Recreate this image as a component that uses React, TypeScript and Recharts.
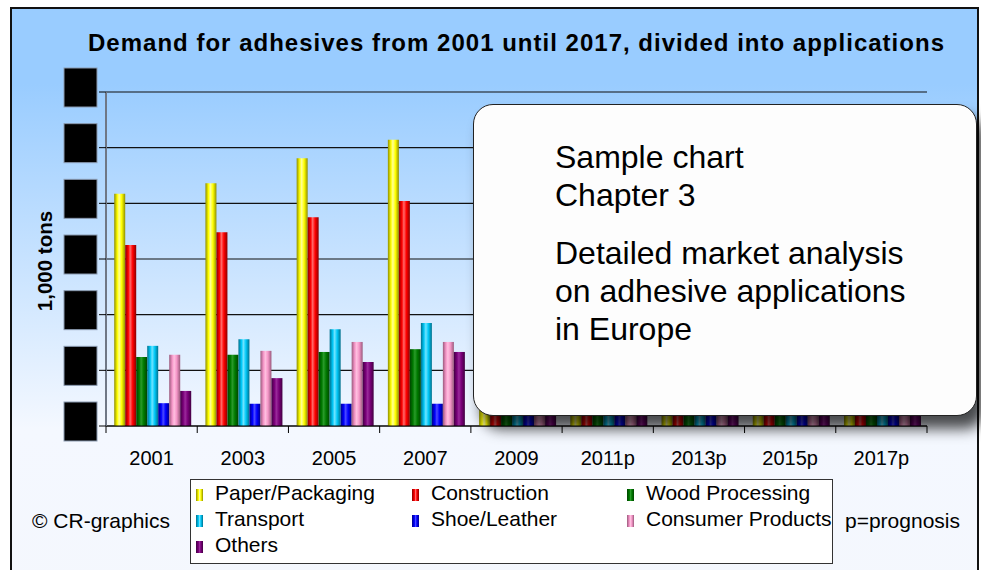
import React from "react";
import { BarChart, Bar, XAxis, YAxis, CartesianGrid } from "recharts";

const years = ["2001", "2003", "2005", "2007", "2009", "2011p", "2013p", "2015p", "2017p"];
const paperPackaging = [417, 436, 481, 514, 470, 500, 525, 545, 560];
const construction = [325, 348, 375, 404, 360, 372, 385, 398, 410];
const woodProcessing = [124, 128, 133, 138, 118, 124, 128, 132, 136];
const transport = [144, 156, 174, 185, 150, 165, 178, 188, 198];
const shoeLeather = [41, 40, 40, 40, 36, 36, 35, 35, 34];
const consumerProducts = [128, 135, 151, 151, 140, 148, 155, 160, 166];
const others = [63, 86, 115, 133, 120, 130, 140, 148, 156];
const yTicks = [0, 100, 200, 300, 400, 500, 600];

const series = [
  { key: "paper", name: "Paper/Packaging", values: paperPackaging, base: "#ffff00", light: "#ffff9a", dark: "#8f8f00" },
  { key: "construction", name: "Construction", values: construction, base: "#ff0000", light: "#ff6a6a", dark: "#8a0000" },
  { key: "wood", name: "Wood Processing", values: woodProcessing, base: "#007a00", light: "#2a9a2a", dark: "#004400" },
  { key: "transport", name: "Transport", values: transport, base: "#00c8f8", light: "#70e4ff", dark: "#00708c" },
  { key: "shoe", name: "Shoe/Leather", values: shoeLeather, base: "#0000ff", light: "#4a4aff", dark: "#00008a" },
  { key: "consumer", name: "Consumer Products", values: consumerProducts, base: "#f596c8", light: "#ffc0e0", dark: "#9a5a7c" },
  { key: "others", name: "Others", values: others, base: "#7a007a", light: "#9a2a9a", dark: "#420042" },
];

const data = years.map((year, i) => {
  const row: Record<string, string | number> = { year };
  series.forEach((s) => {
    row[s.key] = s.values[i];
  });
  return row;
});

const FONT = "'Liberation Sans', Arial, sans-serif";
const PLOT_W = 821;

function YTick(props: any) {
  const { x, y } = props;
  return <rect x={x - 35} y={y - 24} width={33} height={39} fill="#000" stroke="#8a9ab0" strokeWidth={1} />;
}

function XTick(props: any) {
  const { x, y, payload, index } = props;
  const bw = PLOT_W / years.length;
  return (
    <g>
      <line x1={x - bw / 2} x2={x - bw / 2} y1={y} y2={y + 7} stroke="#000" />
      {index === years.length - 1 && (
        <line x1={x + bw / 2} x2={x + bw / 2} y1={y} y2={y + 7} stroke="#000" />
      )}
      <text x={x} y={y + 39} textAnchor="middle" fontSize={20} fontFamily={FONT} fill="#000">
        {payload.value}
      </text>
    </g>
  );
}

export default function App() {
  return (
    <div
      style={{
        position: "absolute",
        left: 0,
        top: 0,
        width: 981,
        height: 570,
        overflow: "hidden",
        background: "#fff",
        fontFamily: FONT,
      }}
    >
      <div
        style={{
          position: "absolute",
          left: 10,
          top: 7,
          width: 965,
          height: 600,
          border: "2px solid #111",
          background:
            "linear-gradient(to bottom, #99ccff 0px, #99ccff 75px, #f4f8ff 420px, #f4f7fd 600px)",
        }}
      />
      <div style={{ position: "absolute", left: 0, top: 0 }}>
        <BarChart
          width={981}
          height={570}
          data={data}
          margin={{ top: 92, right: 54, bottom: 94, left: 62 }}
          barCategoryGap="9%"
          barGap={0}
        >
          <defs>
            {series.map((s) => (
              <linearGradient key={s.key} id={`grad-${s.key}`} x1="0" y1="0" x2="1" y2="0">
                <stop offset="0%" stopColor={s.dark} />
                <stop offset="28%" stopColor={s.base} />
                <stop offset="45%" stopColor={s.light} />
                <stop offset="68%" stopColor={s.base} />
                <stop offset="100%" stopColor={s.dark} />
              </linearGradient>
            ))}
          </defs>
          <CartesianGrid vertical={false} stroke="#111" strokeWidth={1.2} />
          <XAxis
            dataKey="year"
            height={50}
            tickSize={0}
            tickMargin={0}
            tickLine={false}
            axisLine={{ stroke: "#000", strokeWidth: 1.2 }}
            tick={<XTick />}
            interval={0}
          />
          <YAxis
            width={44}
            domain={[0, 600]}
            ticks={yTicks}
            tickSize={7}
            tickMargin={0}
            tickLine={{ stroke: "#000" }}
            axisLine={{ stroke: "#6f7785", strokeWidth: 2 }}
            tick={<YTick />}
          />
          {series.map((s) => (
            <Bar
              key={s.key}
              dataKey={s.key}
              name={s.name}
              fill={`url(#grad-${s.key})`}
              isAnimationActive={false}
            />
          ))}
        </BarChart>
      </div>
      <svg
        width={981}
        height={570}
        style={{ position: "absolute", left: 0, top: 0, pointerEvents: "none" }}
      >
        <text
          x={88}
          y={51}
          fontSize={24}
          fontWeight="bold"
          fontFamily={FONT}
          textLength={856}
          lengthAdjust="spacing"
          fill="#000"
        >
          Demand for adhesives from 2001 until 2017, divided into applications
        </text>
        <text
          transform="translate(52, 261) rotate(-90)"
          textAnchor="middle"
          fontSize={20.5}
          fontWeight="bold"
          fontFamily={FONT}
          fill="#000"
        >
          1,000 tons
        </text>
        <text x={32} y={528} fontSize={21} fontFamily={FONT} fill="#000">
          © CR-graphics
        </text>
        <text x={845} y={528} fontSize={21} fontFamily={FONT} fill="#000">
          p=prognosis
        </text>
      </svg>
      <div
        style={{
          position: "absolute",
          left: 190,
          top: 479,
          width: 641,
          height: 83,
          border: "1px solid #333",
          background: "#fff",
        }}
      >
        {series.map((s, i) => {
          const col = i % 3;
          const row = Math.floor(i / 3);
          const left = [5, 221, 436][col];
          return (
            <div
              key={s.key}
              style={{
                position: "absolute",
                left,
                top: row * 26,
                height: 26,
                lineHeight: "26px",
                fontSize: 21,
                whiteSpace: "nowrap",
                color: "#000",
              }}
            >
              <span
                style={{
                  display: "inline-block",
                  width: 7,
                  height: 12,
                  marginRight: 12,
                  verticalAlign: "-1px",
                  background: `linear-gradient(to right, ${s.dark}, ${s.base} 35%, ${s.light} 50%, ${s.base} 70%, ${s.dark})`,
                }}
              />
              {s.name}
            </div>
          );
        })}
      </div>
      <div
        style={{
          position: "absolute",
          left: 473,
          top: 104,
          width: 504,
          height: 312,
          border: "1.5px solid #222",
          borderRadius: 20,
          background: "#fdfdfd",
          boxShadow: "8px 13px 14px rgba(0,0,0,0.7)",
          boxSizing: "border-box",
          paddingLeft: 81,
          paddingTop: 33,
          fontSize: 32,
          lineHeight: "38px",
          color: "#000",
        }}
      >
        <div>Sample chart</div>
        <div>Chapter 3</div>
        <div style={{ marginTop: 20 }}>Detailed market analysis</div>
        <div>on adhesive applications</div>
        <div>in Europe</div>
      </div>
    </div>
  );
}
